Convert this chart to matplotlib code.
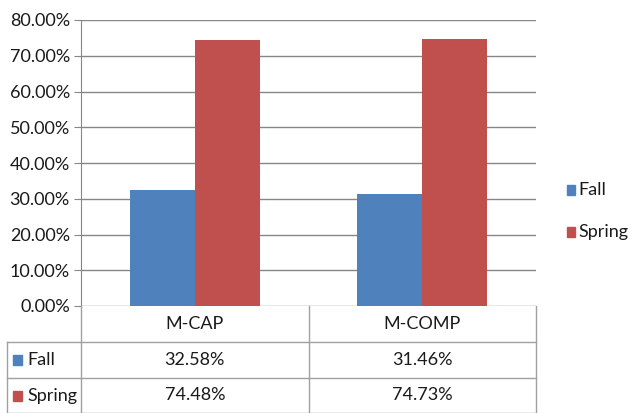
import matplotlib
matplotlib.use("Agg")
import matplotlib.pyplot as plt
from matplotlib.lines import Line2D
from matplotlib.patches import Rectangle
import numpy as np

categories = ["M-CAP", "M-COMP"]
series_names = ["Fall", "Spring"]
fall = [32.58, 31.46]
spring = [74.48, 74.73]
yticks = [0, 10, 20, 30, 40, 50, 60, 70, 80]
colors = ["#4F81BD", "#C0504D"]

plt.rcParams['font.family'] = ['Lato', 'DejaVu Sans']
FS = 13

W, H = 644, 413
fig = plt.figure(figsize=(W/100, H/100), dpi=100)
fig.patch.set_facecolor("white")

def fx(px):
    return px / W
def fy(py):
    return 1 - py / H

left, right, top, bottom = 81, 536, 20, 306
ax = fig.add_axes([fx(left), fy(bottom), fx(right) - fx(left), fy(top) - fy(bottom)])
grid_c = "#868686"
tcol = "#1a1a1a"
x = np.arange(len(categories))
bw = 0.285
ax.bar(x - bw/2, fall, bw, color=colors[0], label=series_names[0], zorder=3)
ax.bar(x + bw/2, spring, bw, color=colors[1], label=series_names[1], zorder=3)
ax.set_xlim(-0.5, len(categories) - 0.5)
ax.set_ylim(0, 80)
ax.set_yticks(yticks)
ax.set_yticklabels([f"{v:.2f}%" for v in yticks], fontsize=FS, color=tcol)
ax.set_xticks([])
ax.yaxis.grid(True, color=grid_c, linewidth=1, zorder=0)
for s in ["top", "right", "bottom"]:
    ax.spines[s].set_visible(False)
ax.spines["left"].set_color(grid_c)
ax.tick_params(axis="y", length=5, color=grid_c, pad=3)

# Data table
tc = "#A0A0A0"
col_edges = [left + (right - left) * i / len(categories) for i in range(len(categories) + 1)]
row_y = [306, 342, 378, 413]
lab_left = 7

def hline(y, x0, x1):
    fig.add_artist(Line2D([fx(x0), fx(x1)], [fy(y), fy(y)], color=tc, lw=1))
def vline(xp, y0, y1):
    fig.add_artist(Line2D([fx(xp), fx(xp)], [fy(y0), fy(y1)], color=tc, lw=1))

for xe in col_edges:
    vline(xe, row_y[0], row_y[-1])
vline(lab_left, row_y[1], row_y[-1])
hline(row_y[1], lab_left, right)
hline(row_y[2], lab_left, right)
hline(row_y[3] - 0.5, lab_left, right)

for i, c in enumerate(categories):
    cx = (col_edges[i] + col_edges[i + 1]) / 2
    fig.text(fx(cx), fy((row_y[0] + row_y[1]) / 2), c, ha="center", va="center",
             fontsize=FS, color=tcol)

for r, (name, vals) in enumerate(zip(series_names, [fall, spring])):
    cy = (row_y[r + 1] + row_y[r + 2]) / 2
    fig.add_artist(Rectangle((fx(13), fy(cy + 5)), fx(9), 10 / H, color=colors[r],
                             transform=fig.transFigure))
    fig.text(fx(27), fy(cy), name, ha="left", va="center", fontsize=FS, color=tcol)
    for i, v in enumerate(vals):
        cx = (col_edges[i] + col_edges[i + 1]) / 2
        fig.text(fx(cx), fy(cy), f"{v:.2f}%", ha="center", va="center",
                 fontsize=FS, color=tcol)

# Legend
for r, name in enumerate(series_names):
    ly = [190, 232][r]
    fig.add_artist(Rectangle((fx(567), fy(ly + 5)), fx(8), 10 / H, color=colors[r],
                             transform=fig.transFigure))
    fig.text(fx(578), fy(ly), name, ha="left", va="center", fontsize=FS, color=tcol)

fig.savefig("out.png", dpi=100, facecolor="white")
